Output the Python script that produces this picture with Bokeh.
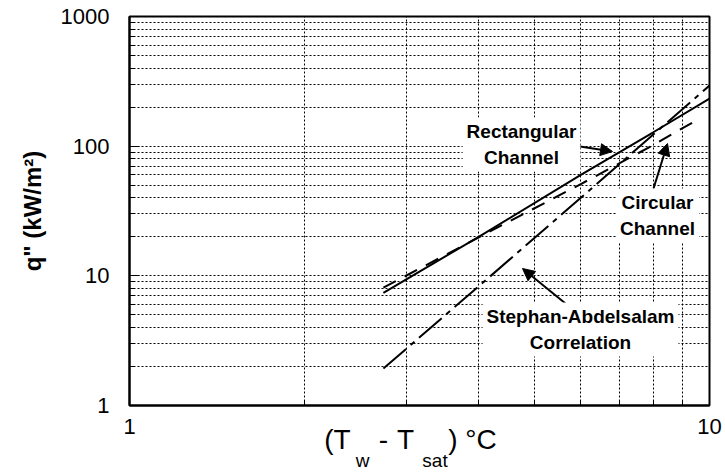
import math

from bokeh.plotting import figure
from bokeh.models import FixedTicker, Label, Arrow, NormalHead, LogAxis
from bokeh.embed import file_html
from bokeh.resources import INLINE

# Wall superheat (T_w - T_sat) in degC and heat flux q" in kW/m^2
dT = [2.74, 4, 6, 8, 10]
q_rectangular = [7.4, 20.0, 60.0, 128.0, 233.0]
dT_circular = [2.74, 4, 6, 8, 9.6]
q_circular = [8.1, 19.8, 51.0, 102.0, 163.0]
q_stephan = [1.93, 8.3, 40.0, 123.0, 293.0]

x_ticks = [1, 10]
x_tick_labels = ["1", "10"]
y_ticks = [1, 10, 100, 1000]
y_tick_labels = ["1", "10", "100", "1000"]

# x-axis title, split so the subscripts can sit lower and smaller
title_main = ["(T", "-", "T", ") °C"]
title_main_px = [337, 383, 405, 472]
title_sub = ["w", "sat"]
title_sub_px = [362, 434.5]

FONT = "Liberation Sans"
W, H = 725, 474
LEFT, RIGHT, TOP, BOTTOM = 129, 16, 16, 69
X_RANGE = (1, 10)
Y_RANGE = (1, 1000)


def at(px, py):
    """Canvas pixel position -> data coordinates on the log-log frame."""
    fw = W - LEFT - RIGHT
    fh = H - TOP - BOTTOM
    lx0, lx1 = math.log10(X_RANGE[0]), math.log10(X_RANGE[1])
    ly0, ly1 = math.log10(Y_RANGE[0]), math.log10(Y_RANGE[1])
    lx = lx0 + (px - LEFT) / fw * (lx1 - lx0)
    ly = ly0 + (H - BOTTOM - py) / fh * (ly1 - ly0)
    return 10 ** lx, 10 ** ly


def x_at(px):
    return round(at(px, 0)[0], 4)


p = figure(width=W, height=H, x_axis_type="log", y_axis_type="log",
           x_range=X_RANGE, y_range=Y_RANGE, output_backend="svg",
           toolbar_location=None, title=None,
           min_border_left=LEFT, min_border_right=RIGHT,
           min_border_top=TOP, min_border_bottom=BOTTOM)

p.background_fill_color = "white"
p.border_fill_color = "white"
p.outline_line_color = "black"
p.outline_line_width = 2

x_minor = [m * 10 ** k for k in range(0, 1) for m in range(2, 10)]
y_minor = [m * 10 ** k for k in range(0, 3) for m in range(2, 10)]
xt = FixedTicker(ticks=x_ticks, minor_ticks=x_minor)
yt = FixedTicker(ticks=y_ticks, minor_ticks=y_minor)
p.xaxis.ticker = xt
p.yaxis.ticker = yt
p.xgrid.ticker = xt
p.ygrid.ticker = yt
p.xaxis.major_label_overrides = dict(zip(x_ticks, x_tick_labels))
p.yaxis.major_label_overrides = dict(zip(y_ticks, y_tick_labels))

for ax in (p.xaxis, p.yaxis):
    ax.axis_line_color = "black"
    ax.axis_line_width = 2
    ax.major_tick_in = 10
    ax.major_tick_out = 0
    ax.minor_tick_in = 5
    ax.minor_tick_out = 0
    ax.major_tick_line_color = "black"
    ax.minor_tick_line_color = "black"
    ax.major_label_text_font = FONT
    ax.major_label_text_font_size = "22px"
    ax.major_label_text_font_style = "normal"
    ax.major_label_text_color = "black"

p.xaxis.major_label_standoff = 13
p.yaxis.major_label_standoff = 20

p.yaxis.axis_label = 'q" (kW/m²)'
p.yaxis.axis_label_text_font = FONT
p.yaxis.axis_label_text_font_size = "24px"
p.yaxis.axis_label_text_font_style = "bold"
p.yaxis.axis_label_text_color = "black"
p.yaxis.axis_label_standoff = 12

for g in (p.xgrid, p.ygrid):
    g.grid_line_color = "black"
    g.grid_line_width = 1
    g.grid_line_dash = "2 2"
    g.minor_grid_line_color = "black"
    g.minor_grid_line_width = 1
    g.minor_grid_line_dash = "2 2"


def title_axis(labels, px_centers, size, standoff):
    pos = [x_at(v) for v in px_centers]
    ax = LogAxis(ticker=FixedTicker(ticks=pos, minor_ticks=[]),
                 major_label_overrides=dict(zip(pos, labels)))
    ax.axis_line_color = None
    ax.major_tick_line_color = None
    ax.minor_tick_line_color = None
    ax.major_tick_in = 0
    ax.major_tick_out = 0
    ax.minor_tick_in = 0
    ax.minor_tick_out = 0
    ax.major_label_standoff = standoff
    ax.major_label_text_font = FONT
    ax.major_label_text_font_size = size
    ax.major_label_text_font_style = "normal"
    ax.major_label_text_color = "black"
    p.add_layout(ax, "below")


title_axis(title_main, title_main_px, "28px", -13)
title_axis(title_sub, title_sub_px, "19px", -8)

# correlation curves
p.line(dT, q_rectangular, line_color="black", line_width=2)
p.line(dT_circular, q_circular, line_color="black", line_width=2,
       line_dash="14 10")
p.line(dT, q_stephan, line_color="black", line_width=2,
       line_dash="30 6 5 6")

# arrows pointing from the notes to their curves
arrow_specs = [((573, 145), (612, 151)),
               ((653, 188), (667, 143)),
               ((565, 303), (522, 268))]
for (sx, sy), (ex, ey) in arrow_specs:
    x0, y0 = at(sx, sy)
    x1, y1 = at(ex, ey)
    p.add_layout(Arrow(x_start=x0, y_start=y0, x_end=x1, y_end=y1,
                       line_color="black", line_width=2,
                       end=NormalHead(size=12, fill_color="black",
                                      line_color="black")))

# notes on white boxes
notes = [("Rectangular\nChannel", (521, 144)),
         ("Circular\nChannel", (657, 215)),
         ("Stephan-Abdelsalam\nCorrelation", (580, 329))]
for txt, (px, py) in notes:
    x, y = at(px, py)
    p.add_layout(Label(x=x, y=y, text=txt, text_align="center",
                       text_baseline="middle", text_font=FONT,
                       text_font_size="19px", text_font_style="bold",
                       text_color="black", background_fill_color="white",
                       padding=4))

open("out.html", "w").write(file_html(p, INLINE))
